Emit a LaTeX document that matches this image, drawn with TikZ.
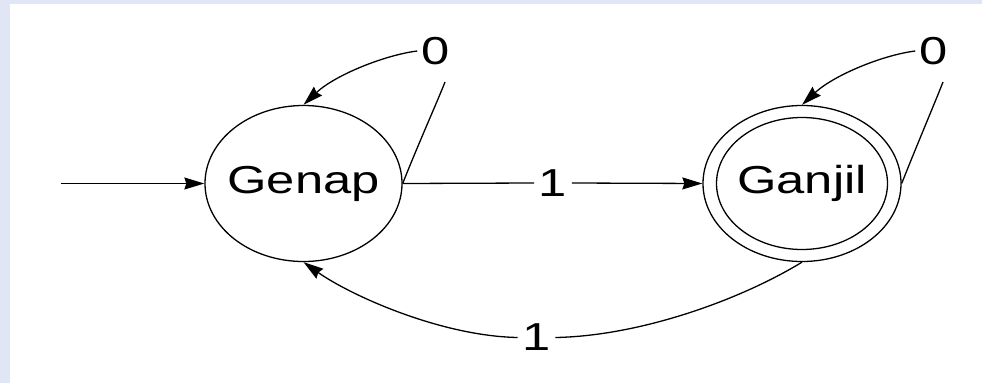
\documentclass[tikz,border=0pt]{standalone}
\usepackage{fontspec}
\setmainfont{Liberation Sans}
\usetikzlibrary{shapes.geometric,arrows.meta}
\definecolor{bgblue}{RGB}{224,230,246}
\newcommand\stretchtxt[1]{\scalebox{1.3}[1]{#1}}
\tikzset{
  bigfont/.style={font=\fontsize{39pt}{39pt}\selectfont},
  state/.style={draw, ellipse, line width=1.3pt, inner sep=0pt},
  statetext/.style={bigfont, inner sep=0pt},
  lbl/.style={bigfont, inner xsep=4.5pt, inner ysep=0pt},
  conn/.style={line width=1.3pt},
  arr/.style={conn, -{Stealth[length=20pt,width=12pt,inset=2pt]}}
}
\begin{document}
\begin{tikzpicture}[x=1pt,y=-1pt]
  \fill[bgblue] (0,0) rectangle (982,383);
  \fill[white] (10,4) rectangle (982,383);
  \useasboundingbox (0,0) rectangle (982,383);
  % states
  \node[state, minimum width=197pt, minimum height=156pt] (genap) at (303.5,183.5) {};
  \node[statetext] (genaptxt) at (genap.center) {\stretchtxt{Genap}};
  \node[state, minimum width=198pt, minimum height=156pt] (ganjil) at (802,183.5) {};
  \node[state, minimum width=171pt, minimum height=132pt] (ganjilin) at (802,183.5) {};
  \node[statetext] (ganjiltxt) at (ganjil.center) {\stretchtxt{Ganjil}};
  % labels
  \node[lbl] (l1a) at (553,183) {\stretchtxt{1}};
  \node[lbl] (l1b) at (536.5,337.5) {\stretchtxt{1}};
  \node[lbl] (l0a) at (436,51) {\stretchtxt{0}};
  \node[lbl] (l0b) at (934,51) {\stretchtxt{0}};
  \coordinate (start) at (61,183.5);
  \coordinate (l0afoot) at (445,82);
  \coordinate (l0bfoot) at (943,82);
  % start arrow
  \draw[arr] (start) -- (genap.west);
  % Genap -> Ganjil on 1
  \draw[conn] (genap.east) -- (l1a.west);
  \draw[arr] (l1a.east) -- (ganjil.west);
  % loop on Genap
  \draw[conn] (genap.east) .. controls (420,140) and (438,100) .. (l0afoot);
  \draw[arr] (l0a.west) .. controls (385,55) and (335,75) .. (genap.north);
  % loop on Ganjil
  \draw[conn] (ganjil.east) .. controls (919,140) and (936,100) .. (l0bfoot);
  \draw[arr] (l0b.west) .. controls (883,55) and (834,75) .. (ganjil.north);
  % Ganjil -> Genap on 1
  \draw[conn] (ganjil.south) .. controls (740,300) and (640,336) .. (l1b.east);
  \draw[arr] (l1b.west) .. controls (440,336) and (350,295) .. (genap.south);
\end{tikzpicture}
\end{document}
